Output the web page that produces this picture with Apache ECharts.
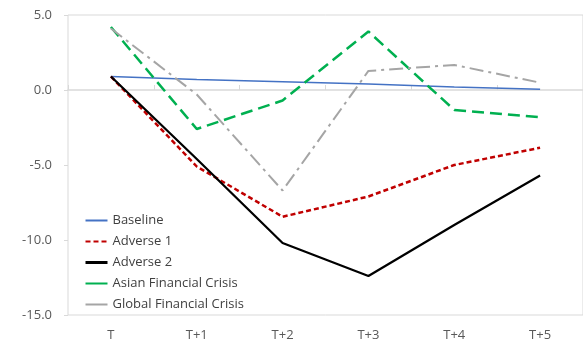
<!DOCTYPE html>
<html>
<head>
<meta charset="utf-8">
<script src="https://cdn.jsdelivr.net/npm/echarts@6/dist/echarts.min.js"></script>
<style>
  html, body { margin: 0; padding: 0; background: #fff; }
  #chart { width: 583px; height: 352px; }
</style>
</head>
<body>
<div id="chart"></div>
<script>
// Scenario paths, per period
const categories = ['T', 'T+1', 'T+2', 'T+3', 'T+4', 'T+5'];
const baseline = [0.9, 0.7, 0.55, 0.4, 0.2, 0.05];
const adverse1 = [0.9, -5.1, -8.45, -7.1, -5.0, -3.85];
const adverse2 = [0.9, -4.6, -10.2, -12.4, -9.0, -5.7];
const asianCrisis = [4.2, -2.6, -0.7, 3.9, -1.33, -1.82];
const globalCrisis = [4.1, -0.3, -6.7, 1.27, 1.67, 0.49];
const yTicks = { min: -15, max: 5, interval: 5 };

const fontFamily = '"Open Sans", "Noto Sans", sans-serif';
const chart = echarts.init(document.getElementById('chart'), null, { renderer: 'canvas' });

function lineSeries(name, data, color, width, type) {
  return {
    name: name,
    type: 'line',
    data: data,
    xAxisIndex: 0,
    symbol: 'none',
    smooth: false,
    animation: false,
    lineStyle: { color: color, width: width, type: type },
    itemStyle: { color: color }
  };
}

chart.setOption({
  animation: false,
  backgroundColor: '#ffffff',
  grid: {
    left: 68, top: 15, bottom: 37, right: -3,
    show: true, borderColor: '#d9d9d9', borderWidth: 1
  },
  legend: {
    orient: 'vertical',
    left: 79, top: 209,
    itemWidth: 22, itemHeight: 14, itemGap: 8,
    itemStyle: { opacity: 0 },
    textStyle: { fontFamily: fontFamily, fontSize: 13, color: '#404040' },
    data: [
      { name: 'Baseline' },
      { name: 'Adverse 1' },
      { name: 'Adverse 2', lineStyle: { width: 3 } },
      { name: 'Asian Financial Crisis', lineStyle: { type: 'solid' } },
      { name: 'Global Financial Crisis', lineStyle: { type: 'solid' } }
    ]
  },
  xAxis: [
    {
      type: 'category',
      data: categories,
      boundaryGap: true,
      axisLine: { show: true, onZero: true, lineStyle: { color: '#d9d9d9', width: 1.5 } },
      axisTick: { show: true, inside: true, length: 5, lineStyle: { color: '#d9d9d9' } },
      axisLabel: { show: false },
      splitLine: { show: false }
    },
    {
      type: 'category',
      data: categories,
      position: 'bottom',
      boundaryGap: true,
      axisLine: { show: false },
      axisTick: { show: false },
      axisLabel: { show: true, margin: 14, fontFamily: fontFamily, fontSize: 13, color: '#595959' },
      splitLine: { show: false }
    }
  ],
  yAxis: {
    type: 'value',
    min: yTicks.min, max: yTicks.max, interval: yTicks.interval,
    axisLine: { show: false },
    axisTick: { show: true, length: 4, lineStyle: { color: '#d9d9d9' } },
    splitLine: { show: false },
    axisLabel: {
      margin: 16,
      fontFamily: fontFamily, fontSize: 13, color: '#595959',
      formatter: v => v.toFixed(1)
    }
  },
  series: [
    lineSeries('Baseline', baseline, '#4472C4', 1.5, 'solid'),
    lineSeries('Adverse 1', adverse1, '#C00000', 2.5, [5, 3]),
    lineSeries('Adverse 2', adverse2, '#000000', 2.25, 'solid'),
    lineSeries('Asian Financial Crisis', asianCrisis, '#00B050', 2.5, [12, 6]),
    lineSeries('Global Financial Crisis', globalCrisis, '#A5A5A5', 2, [14, 5, 3, 5])
  ]
});
</script>
</body>
</html>
